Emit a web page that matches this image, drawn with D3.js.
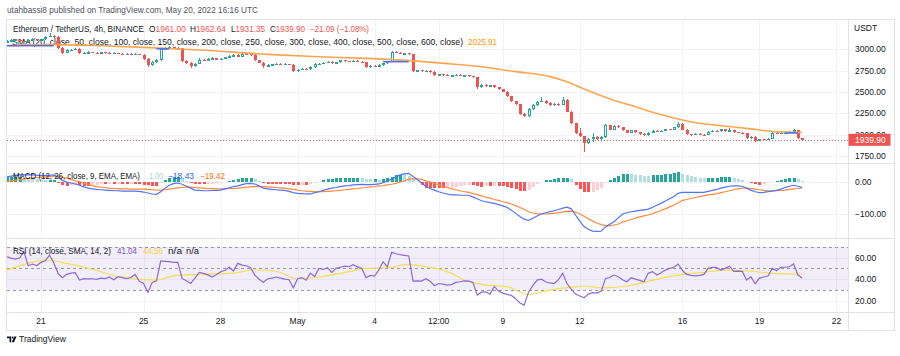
<!DOCTYPE html>
<html><head><meta charset="utf-8">
<script src="https://cdn.jsdelivr.net/npm/d3@7"></script>
<style>html,body{margin:0;padding:0;background:#fff;}svg{display:block;font-family:"Liberation Sans",Arial,sans-serif;}</style>
</head><body><svg id="c" width="900" height="356"></svg>
<script>
// ---------- DATA (ETH/USDT 4h, BINANCE) ----------
const firstBarUTC = [2022, 3, 19, 16]; // first candle open time (Apr 19 16:00 UTC)
const firstOpen = 3090;
const closes = [
3095,3105,3112,3100,3092,3108,3120,3104,3115,3148,
3160,3140,3020,2960,2990,2995,3005,2955,2962,2968,
2960,2956,2964,2958,2952,2958,2948,2944,2950,2940,
2946,2935,2890,2815,2850,2870,3005,3010,3022,3008,
3014,2865,2840,2800,2830,2880,2868,2885,2896,2880,
2892,2905,2920,2932,2915,2950,2940,2935,2870,2845,
2800,2815,2822,2830,2824,2828,2820,2740,2760,2775,
2768,2790,2825,2832,2840,2852,2836,2846,2872,2862,
2855,2866,2856,2850,2790,2806,2800,2815,2836,2856,
2965,2960,2950,2956,2945,2745,2752,2740,2746,2735,
2695,2706,2700,2690,2696,2702,2690,2696,2685,2675,
2560,2580,2570,2576,2555,2535,2505,2450,2390,2360,
2240,2220,2300,2350,2385,2400,2370,2345,2362,2350,
2410,2270,2135,2020,1980,1905,1950,1970,1955,1975,
2110,2060,2100,2085,2050,2025,2050,2030,2010,1995,
2020,2045,2035,2045,2065,2060,2085,2130,2060,2005,
1995,2010,2000,1995,2035,2045,2040,2065,2040,2050,
2030,2020,2015,1960,1975,1925,1945,1940,1955,2025,
2015,2025,2030,2035,2055,1961,1939.90];
const highs = [
3110,3118,3125,3120,3108,3115,3135,3126,3122,3160,
3190,3172,3150,3030,3000,3006,3015,3010,2972,2975,
2972,2966,2970,2968,2964,2966,2962,2955,2958,2956,
2952,2950,2942,2898,2862,2882,3015,3025,3034,3030,
3025,3020,2878,2848,2838,2894,2892,2898,2910,2902,
2900,2915,2930,2945,2940,2962,2958,2948,2940,2878,
2850,2825,2830,2838,2836,2834,2832,2825,2770,2785,
2780,2800,2836,2840,2850,2860,2858,2852,2880,2876,
2866,2872,2870,2860,2855,2812,2812,2822,2842,2862,
2975,2975,2966,2962,2960,2950,2762,2758,2755,2752,
2740,2712,2710,2705,2702,2708,2706,2700,2700,2688,
2680,2590,2588,2585,2582,2560,2540,2510,2455,2395,
2365,2255,2310,2360,2395,2445,2405,2380,2370,2368,
2445,2415,2275,2140,2078,1990,1965,2020,1985,1990,
2120,2115,2110,2118,2090,2055,2058,2055,2035,2015,
2028,2052,2050,2052,2070,2072,2090,2145,2135,2065,
2010,2018,2015,2005,2042,2055,2050,2072,2068,2078,
2055,2035,2028,2020,1982,1980,1950,1950,1960,2030,
2032,2030,2036,2040,2062,2060,1962.64];
const lows = [
3080,3088,3098,3092,3082,3088,3100,3096,3098,3110,
3140,3130,3005,2950,2955,2982,2988,2945,2948,2955,
2952,2948,2950,2950,2945,2946,2940,2936,2940,2932,
2934,2928,2880,2796,2808,2840,2862,2996,3002,2998,
3000,2855,2830,2785,2792,2824,2858,2860,2878,2872,
2874,2886,2898,2914,2908,2910,2930,2926,2860,2835,
2785,2795,2808,2815,2818,2818,2812,2730,2735,2752,
2760,2760,2784,2820,2826,2835,2828,2830,2840,2855,
2848,2850,2850,2842,2780,2785,2794,2795,2810,2830,
2850,2952,2944,2945,2938,2735,2738,2732,2735,2728,
2688,2690,2692,2682,2684,2690,2684,2685,2678,2668,
2540,2552,2562,2562,2548,2525,2495,2440,2380,2350,
2230,2205,2212,2290,2340,2380,2360,2335,2340,2340,
2345,2260,2125,2010,1970,1800,1890,1910,1935,1920,
1965,2050,2052,2075,2040,2015,2018,2022,2000,1985,
1990,2015,2028,2030,2040,2055,2055,2080,2055,1998,
1988,1992,1995,1988,1992,2030,2035,2036,2035,2038,
2025,2015,2008,1955,1955,1918,1920,1932,1935,1950,
2010,2010,2022,2028,2030,1955,1931.35];

// SMA line (orange) read at sample bars
const smaBar = [0,11,22,33,45,61,73,84,96,104,111,119,127,131,135,139,143,147,150,154,158,162,166,170,174,178,182,186];
const smaVal = [3045,3055,3042,3020,2992,2941,2913,2894,2862,2828,2796,2738,2680,2620,2535,2457,2386,2328,2277,2222,2172,2133,2110,2090,2068,2043,2030,2025.91];
// short visible blue SMA segments
const blueStart = [0, 35, 88, 182];
const blueEnd   = [11, 38, 94, 185];
const blueVal   = [3042, 3006, 2855, 2020];

// MACD (12, 26, close, 9)
const macdLine = [
15,17,19,21,21,21,21,20,19,19,
20,21,14,4,-1,-4,-7,-11,-16,-20,
-22,-24,-25,-26,-27,-28,-28,-29,-29,-29,
-29,-30,-32,-35,-38,-39,-31,-20,-11,-6,
-4,-8,-14,-20,-26,-27,-28,-28,-27,-27,
-26,-22,-19,-15,-13,-9,-6,-5,-7,-13,
-20,-22,-24,-25,-26,-27,-30,-34,-36,-37,
-38,-38,-34,-31,-27,-23,-20,-18,-15,-13,
-12,-10,-9,-8,-9,-9,-8,-7,-3,2,
8,15,21,24,26,16,7,-4,-15,-21,
-26,-31,-35,-38,-41,-41,-42,-42,-42,-47,
-53,-59,-62,-65,-67,-71,-75,-80,-88,-98,
-108,-116,-120,-113,-106,-100,-96,-93,-90,-86,
-82,-79,-84,-103,-122,-139,-147,-153,-154,-153,
-140,-132,-124,-112,-100,-96,-93,-91,-89,-87,
-85,-79,-73,-67,-60,-53,-46,-36,-33,-33,
-33,-33,-33,-33,-30,-27,-24,-20,-17,-14,
-13,-13,-14,-20,-26,-31,-34,-33,-31,-29,
-27,-23,-18,-14,-11,-14,-18.43];
const signalLine = [
0,2,4,6,8,10,11,13,14,15,
16,17,17,14,11,7,3,0,-4,-8,
-12,-15,-17,-18,-20,-21,-22,-22,-22,-23,
-23,-23,-23,-24,-25,-26,-26,-25,-23,-21,
-19,-18,-17,-17,-18,-19,-20,-21,-21,-22,
-22,-22,-21,-21,-20,-19,-17,-16,-15,-15,
-15,-16,-17,-18,-19,-20,-22,-24,-26,-28,
-29,-30,-31,-31,-31,-30,-29,-28,-27,-25,
-24,-22,-21,-19,-18,-16,-15,-13,-12,-10,
-8,-5,-1,3,8,9,9,7,3,-1,
-5,-10,-14,-18,-22,-25,-28,-31,-33,-37,
-40,-44,-48,-51,-55,-58,-62,-65,-69,-74,
-80,-86,-93,-97,-99,-100,-100,-99,-98,-96,
-94,-92,-91,-94,-100,-107,-115,-122,-128,-133,
-136,-136,-134,-131,-125,-121,-117,-113,-109,-106,
-103,-99,-94,-89,-84,-78,-72,-65,-58,-55,
-52,-49,-46,-44,-41,-39,-37,-34,-31,-28,
-25,-22,-20,-20,-21,-23,-25,-27,-28,-28,
-28,-27,-26,-24,-22,-21,-19.42];

// RSI (14) and its SMA
const rsiLine = [
60.7,59.5,58.6,59.5,65.4,52.4,54,52.6,55.5,57,
62.3,55,45.4,41.3,44.5,45.6,46,39.2,40.5,40.2,
40.4,39.8,41,40.5,42,39.5,42.3,41.5,40.4,41.5,
44.4,38,36.1,27.8,37,38.5,56.8,56.5,56.2,55.6,
55.6,40.7,38.5,36.1,41,46.3,45.4,44,42,44,
46.9,48,50.9,47.5,54.6,53,52.4,50.5,43.8,40,
37.2,40.4,41,42,41,40,39.5,32,40.4,41.5,
39,45.6,42.5,50,49,50.6,46.3,50,51,52,
51.5,53.4,51.3,50,41.3,43.5,42.8,48.5,56.1,51.5,
64.8,63.5,62.6,62,61.4,38.2,38.5,38.2,40.4,38,
33.9,36,35.5,34.5,35,37,37.6,38.5,38.2,37,
25.3,28,28.3,26.2,33.3,29,27.1,26,25,22,
18,16,28,34,39.2,40,37.6,36.5,36,39.5,
45.4,36,30.7,26.2,24.5,22.8,26.2,27.5,27.1,29,
40.7,41.5,43.8,42.3,39.5,37.6,41.3,40,38.9,37.5,
45.4,47,43.8,46,48.4,50,51,54,48,44.4,
43.5,43.1,43.5,44.4,50,51,50.6,48.4,50,52,
47.2,47.5,47.2,39.2,42.3,35.8,41,42,42.9,50,
47.8,50.9,51,51.5,54,43.8,41.04];
const rsiSmaBar = [0,5,9,14,22,26,35,39,45,53,58,63,68,73,80,84,89,94,98,102,104,107,111,117,122,127,132,135,139,145,150,157,163,168,174,179,186];
const rsiSmaVal = [48.4,54.6,57.7,54.6,46.9,42.3,39.2,43,44.4,45.6,48.7,47.3,40.4,42,46.9,50,50.6,53.7,51.5,48.4,45.4,39.2,35.2,33,25.9,29.9,32.6,33.7,32,33.7,38.2,43.8,46.3,48.4,47.3,45.4,44.56];

// axis ticks
const priceTicks = [3000, 2750, 2500, 2250, 2000, 1750];
const macdTicks = [0, -100];
const rsiTicks = [60, 40, 20];
const rsiBands = [70, 50, 30];
const timeTickUTC = [[2022,3,21],[2022,3,25],[2022,3,28],[2022,4,1],[2022,4,4],[2022,4,6,12],[2022,4,9],[2022,4,12],[2022,4,16],[2022,4,19],[2022,4,22]];
const timeTickLabels = ["21","25","28","May","4","12:00","9","12","16","19","22"];
const lastPrice = 1939.90;

// ---------- LAYOUT ----------
const L = 7, R = 848;
const mainTop = 20, mainBot = 163, macdBot = 238, rsiBot = 312, axBot = 331;
const fs = 8.5, fsLeg = 8.6;
const C = {grid:"#f0f3fa", sep:"#e0e3eb", text:"#131722", up:"#26a69a", down:"#ef5350"};

const svg = d3.select("#c");
const utc = a => new Date(Date.UTC(a[0], a[1], a[2], a[3]||0));
const t0 = utc(firstBarUTC).getTime();
const barTime = i => new Date(t0 + i * 4 * 3600 * 1000);

const x = d3.scaleUtc().domain([utc([2022,3,21]), utc([2022,4,22])]).range([41, 836.4]);
const yP = d3.scaleLinear().domain([1750, 3000]).range([156, 49.3]);
const yM = d3.scaleLinear().domain([-100, 0]).range([214, 181.7]);
const yR = d3.scaleLinear().domain([30, 70]).range([290, 246.7]);

const defs = svg.append("defs");
function clip(id, y0, y1){ defs.append("clipPath").attr("id", id).append("rect").attr("x", L).attr("y", y0).attr("width", R - L).attr("height", y1 - y0); }
clip("cMain", mainTop, mainBot); clip("cMacd", mainBot, macdBot); clip("cRsi", macdBot, rsiBot);

svg.append("rect").attr("width", 900).attr("height", 356).attr("fill", "#fff");

// fitted text helper
function fitted(yy, x0, w, segs, size){
  const t = svg.append("text").attr("x", x0).attr("y", yy).attr("dy", "0.35em").attr("font-size", size)
    .attr("textLength", w).attr("lengthAdjust", "spacingAndGlyphs");
  if (segs.length === 1) t.attr("fill", segs[0][1]).text(segs[0][0]);
  else segs.forEach(q => t.append("tspan").attr("fill", q[1]).text(q[0]));
  return t;
}
function legend(yy, parts){ parts.forEach(p => fitted(yy, p[0], p[1], p[2], fsLeg)); }

// header
fitted(10, 7, 251, [["utahbassi8 published on TradingView.com, May 20, 2022 16:16 UTC", "#50535e"]], 8.6);

// grid
const grid = svg.append("g").attr("stroke", C.grid).attr("stroke-width", 1).attr("shape-rendering", "crispEdges");
timeTickUTC.forEach(a => { const xx = Math.round(x(utc(a))) + 0.5; grid.append("line").attr("x1", xx).attr("x2", xx).attr("y1", mainTop).attr("y2", rsiBot); });
priceTicks.forEach(v => { const yy = Math.round(yP(v)) + 0.5; grid.append("line").attr("x1", L).attr("x2", R).attr("y1", yy).attr("y2", yy); });
macdTicks.forEach(v => { const yy = Math.round(yM(v)) + 0.5; grid.append("line").attr("x1", L).attr("x2", R).attr("y1", yy).attr("y2", yy); });
rsiTicks.forEach(v => { const yy = Math.round(yR(v)) + 0.5; grid.append("line").attr("x1", L).attr("x2", R).attr("y1", yy).attr("y2", yy); });

// frame & separators
const fr = svg.append("g").attr("stroke", C.sep).attr("stroke-width", 1).attr("shape-rendering", "crispEdges").attr("fill", "none");
fr.append("rect").attr("x", L - 0.5).attr("y", mainTop - 0.5).attr("width", 895 - L).attr("height", axBot - mainTop);
[mainBot, macdBot, rsiBot].forEach(yy => fr.append("line").attr("x1", L).attr("x2", 895).attr("y1", yy + 0.5).attr("y2", yy + 0.5));
fr.append("line").attr("x1", R + 0.5).attr("x2", R + 0.5).attr("y1", mainTop).attr("y2", axBot);

const red = C.down, dk = C.text;
legend(29.3, [
  [13, 131, [["Ethereum / TetherUS, 4h, BINANCE", dk]]],
  [149, 37, [["O", dk], ["1961.00", red]]],
  [190, 36, [["H", dk], ["1962.64", red]]],
  [231, 34, [["L", dk], ["1931.35", red]]],
  [270, 35, [["C", dk], ["1939.90", red]]],
  [310, 59, [["\u221221.09 (\u22121.08%)", red]]]
]);
legend(41.5, [
  [12, 451, [["SMA (20, close, 50, close, 100, close, 150, close, 200, close, 250, close, 300, close, 400, close, 500, close, 600, close)", dk]]],
  [468, 29, [["2025.91", "#ff9800"]]]
]);

// ---------- MAIN PANE ----------
const gMain = svg.append("g").attr("clip-path", "url(#cMain)");
const bars = closes.map((c, i) => ({ t: barTime(i), o: i === 0 ? firstOpen : closes[i - 1], h: highs[i], l: lows[i], c }));
const gC = gMain.append("g").attr("shape-rendering", "crispEdges");
bars.forEach(d => {
  const cx = Math.round(x(d.t)) + 0.5;
  const up = d.c >= d.o;
  const col = up ? C.up : C.down;
  gC.append("line").attr("x1", cx).attr("x2", cx).attr("y1", yP(d.h)).attr("y2", yP(d.l)).attr("stroke", col);
  const yt = Math.min(yP(d.o), yP(d.c)), yb = Math.max(yP(d.o), yP(d.c));
  const hgt = Math.max(1, yb - yt);
  if (up) gC.append("rect").attr("x", cx - 1).attr("y", yt + 0.5).attr("width", 2).attr("height", Math.max(0.5, hgt - 1)).attr("fill", "#fff").attr("stroke", col);
  else gC.append("rect").attr("x", cx - 1.5).attr("y", yt).attr("width", 3).attr("height", hgt).attr("fill", col);
});
// SMA orange
gMain.append("path").datum(smaBar.map((b, k) => [barTime(b), smaVal[k]]))
  .attr("d", d3.line().x(d => x(d[0])).y(d => yP(d[1])).curve(d3.curveMonotoneX))
  .attr("fill", "none").attr("stroke", "#ffa552").attr("stroke-width", 1.6);
// blue segments
blueStart.forEach((s, k) => {
  gMain.append("line").attr("x1", x(barTime(s))).attr("x2", x(barTime(blueEnd[k]))).attr("y1", yP(blueVal[k])).attr("y2", yP(blueVal[k]))
    .attr("stroke", "#5570f2").attr("stroke-width", 1.6);
});
// last price dotted line
gMain.append("line").attr("x1", L).attr("x2", R).attr("y1", Math.round(yP(lastPrice)) + 0.5).attr("y2", Math.round(yP(lastPrice)) + 0.5)
  .attr("stroke", C.down).attr("stroke-dasharray", "1,2").attr("shape-rendering", "crispEdges");

// ---------- MACD PANE ----------
const gM = svg.append("g").attr("clip-path", "url(#cMacd)");
const hist = macdLine.map((m, i) => m - signalLine[i]);
hist.forEach((h, i) => {
  const prev = i > 0 ? hist[i - 1] : h;
  let col;
  if (h >= 0) col = h >= prev ? "#26a69a" : "#b2dfdb";
  else col = h <= prev ? "#ff5252" : "#ffcdd2";
  const cx = Math.round(x(barTime(i)));
  const y0 = yM(0), y1 = yM(h);
  gM.append("rect").attr("x", cx - 1).attr("y", Math.min(y0, y1)).attr("width", 3).attr("height", Math.max(0.6, Math.abs(y1 - y0))).attr("fill", col).attr("shape-rendering", "crispEdges");
});
const lineM = d3.line().x((d, i) => x(barTime(i))).y(d => yM(d));
gM.append("path").datum(signalLine).attr("d", lineM).attr("fill", "none").attr("stroke", "#ff8a3d").attr("stroke-width", 1.2);
gM.append("path").datum(macdLine).attr("d", lineM).attr("fill", "none").attr("stroke", "#4f74f7").attr("stroke-width", 1.2);

// ---------- RSI PANE ----------
const gR = svg.append("g").attr("clip-path", "url(#cRsi)");
gR.append("rect").attr("x", L).attr("y", yR(70)).attr("width", R - L).attr("height", yR(30) - yR(70)).attr("fill", "rgba(126,87,194,0.1)");
rsiBands.forEach(v => gR.append("line").attr("x1", L).attr("x2", R).attr("y1", Math.round(yR(v)) + 0.5).attr("y2", Math.round(yR(v)) + 0.5)
  .attr("stroke", "#9598a1").attr("stroke-dasharray", "3,3").attr("shape-rendering", "crispEdges"));
gR.append("path").datum(rsiSmaBar.map((b, k) => [barTime(b), rsiSmaVal[k]]))
  .attr("d", d3.line().x(d => x(d[0])).y(d => yR(d[1])).curve(d3.curveMonotoneX))
  .attr("fill", "none").attr("stroke", "#f5dc5a").attr("stroke-width", 1.2);
gR.append("path").datum(rsiLine).attr("d", d3.line().x((d, i) => x(barTime(i))).y(d => yR(d)))
  .attr("fill", "none").attr("stroke", "#8c6ad0").attr("stroke-width", 1.2);

legend(175.7, [
  [13, 127, [["MACD (12, 26, close, 9, EMA, EMA)", dk]]],
  [149, 14, [["1.00", "#a5d6cf"]]],
  [168, 26, [["\u221218.43", "#2962ff"]]],
  [200, 25, [["\u221219.42", "#ff6d00"]]]
]);
legend(250.7, [
  [13, 98, [["RSI (14, close, SMA, 14, 2)", dk]]],
  [117, 20, [["41.04", "#7e57c2"]]],
  [143, 20, [["44.56", "#f5d53a"]]],
  [168, 14, [["n/a", dk]]],
  [186, 13, [["n/a", dk]]]
]);

// ---------- AXES ----------
const ax = svg.append("g").attr("font-size", fs).attr("fill", C.text);
ax.append("text").attr("x", 854).attr("y", 28).attr("dy", "0.35em").text("USDT");
priceTicks.forEach(v => ax.append("text").attr("x", 855).attr("y", yP(v)).attr("dy", "0.35em").text(d3.format(".2f")(v)));
macdTicks.forEach(v => ax.append("text").attr("x", 855).attr("y", yM(v)).attr("dy", "0.35em").text(d3.format(".2f")(v)));
rsiTicks.forEach(v => ax.append("text").attr("x", 855).attr("y", yR(v)).attr("dy", "0.35em").text(d3.format(".2f")(v)));
timeTickUTC.forEach((a, k) => ax.append("text").attr("x", x(utc(a))).attr("y", 321.5).attr("dy", "0.35em").attr("text-anchor", "middle").text(timeTickLabels[k]));
// last price label (covers the lower half of the 2000.00 tick, as in the reference)
const ly = yP(lastPrice);
svg.append("rect").attr("x", R + 0.5).attr("y", ly - 6).attr("width", 42).attr("height", 12).attr("fill", C.down);
svg.append("text").attr("x", 855).attr("y", ly).attr("dy", "0.35em").attr("font-size", fs).attr("fill", "#fff").text(d3.format(".2f")(lastPrice));

// ---------- FOOTER LOGO ----------
const lg = svg.append("g").attr("fill", "#131722");
lg.append("path").attr("d", "M7 336.5h4.2v5.8h-1.7v-4.1H7z");
lg.append("circle").attr("cx", 12.6).attr("cy", 337.5).attr("r", 1);
lg.append("path").attr("d", "M14.2 336.5h2.4l-2.6 5.8h-2.3z");
svg.append("text").attr("x", 19).attr("y", 339.5).attr("dy", "0.35em").attr("font-size", fs).attr("fill", "#131722").text("TradingView");
</script></body></html>
